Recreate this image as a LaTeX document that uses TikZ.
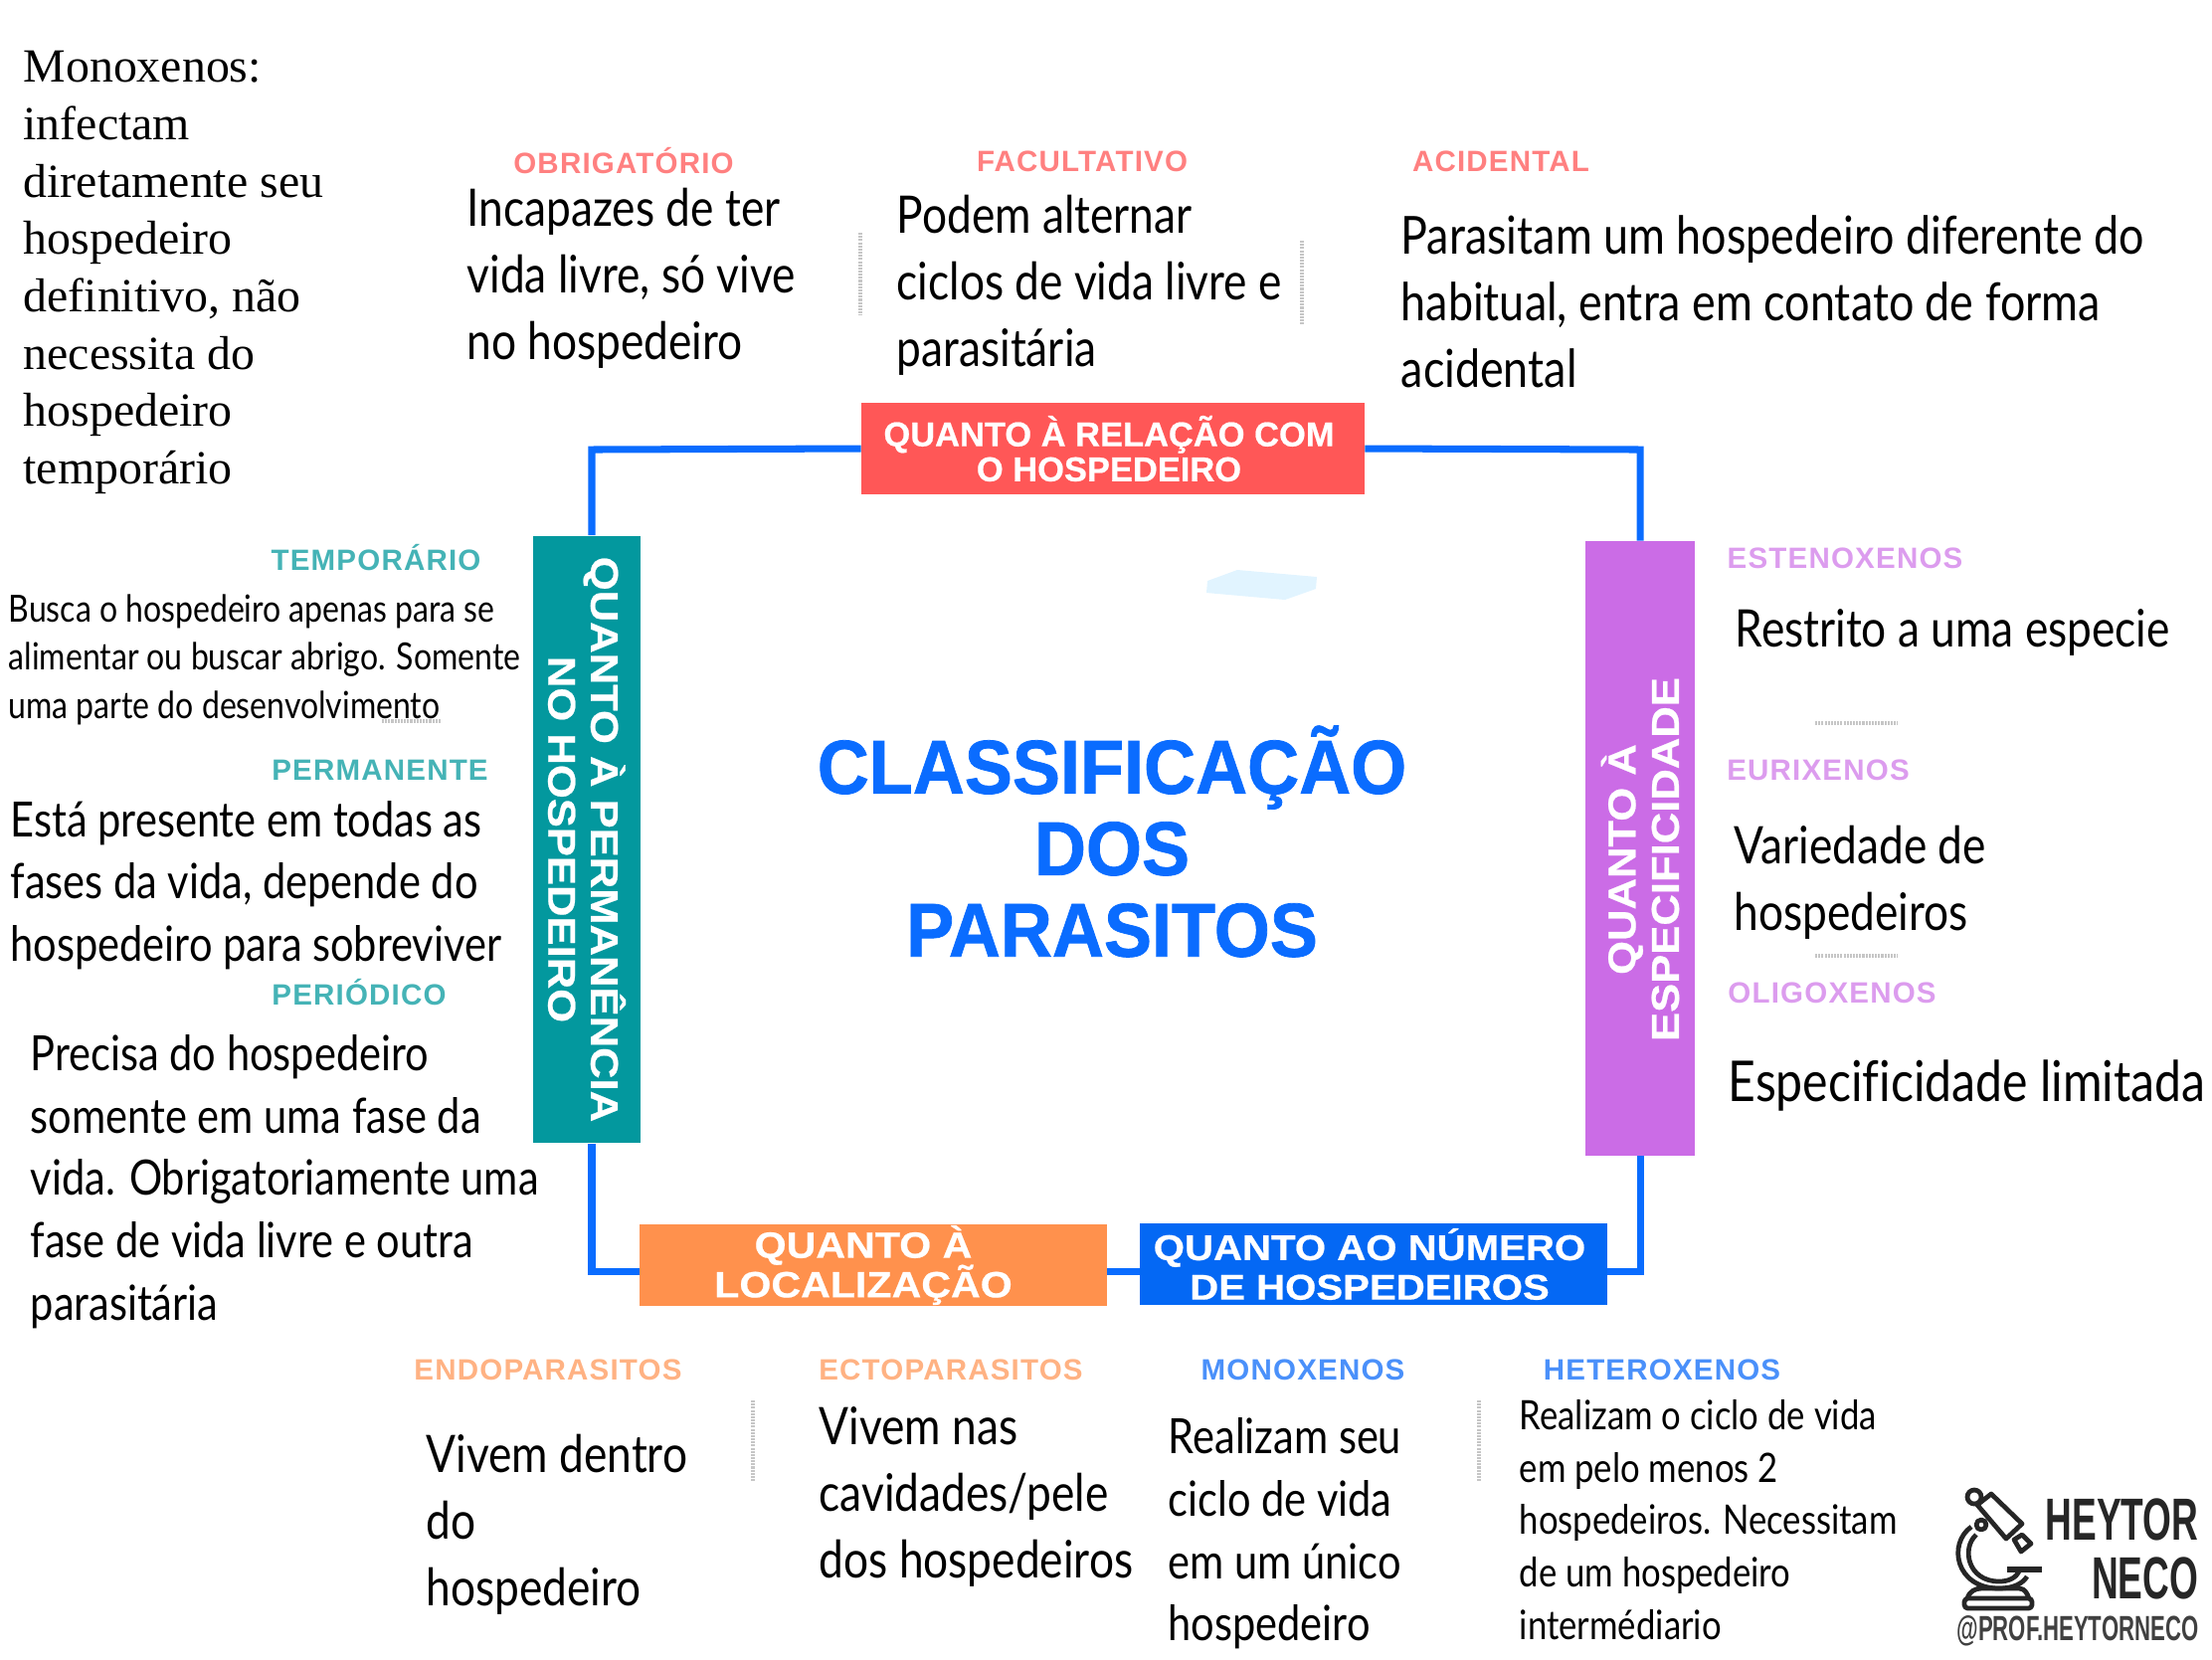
\documentclass[tikz,border=0pt]{standalone}
\usepackage{fontspec}
\usepackage{tikz}
\newfontfamily\condfont[FakeStretch=0.85,Ligatures=NoCommon]{Lato}
\newfontfamily\plainserif{Liberation Serif}
\newfontfamily\boxfont[FakeBold=0.6]{Liberation Sans}
\newfontfamily\wideboxfont[FakeStretch=1.12,FakeBold=0.6]{Liberation Sans}
\newfontfamily\titlefont[FakeStretch=0.94,FakeBold=1]{Liberation Sans}
\newfontfamily\headfont[LetterSpace=4]{Liberation Sans}
\newfontfamily\logofont[FakeStretch=0.62]{Liberation Sans}
\newfontfamily\tagfont[FakeStretch=0.63]{Liberation Sans}
\lineskiplimit=-20pt
\normallineskiplimit=-20pt
\definecolor{framecol}{HTML}{0A6CFF}
\definecolor{redbox}{HTML}{FF5757}
\definecolor{tealbox}{HTML}{03989E}
\definecolor{purplebox}{HTML}{CB6CE6}
\definecolor{orangebox}{HTML}{FF914D}
\definecolor{bluebox}{HTML}{0468F4}
\definecolor{redhead}{HTML}{FF8080}
\definecolor{tealhead}{HTML}{45B3B6}
\definecolor{purplehead}{HTML}{DC9CEE}
\definecolor{orangehead}{HTML}{FFB283}
\definecolor{bluehead}{HTML}{4A90FA}
\definecolor{smudge}{HTML}{E1F4FF}
\tikzstyle{catbox} = [rectangle, inner xsep=0pt, inner ysep=-0.08cm, text centered, align=center, text=white]
\tikzstyle{head} = [inner sep=0pt, font=\headfont\bfseries\fontsize{8.4}{9}\selectfont]
\tikzstyle{bodytext} = [anchor=west, inner sep=0pt, align=left, text=black]
\tikzstyle{bodyhuge} = [bodytext, font=\condfont\fontsize{16.1}{19}\selectfont]
\tikzstyle{bodylarge} = [bodytext, font=\condfont\fontsize{14.8}{19}\selectfont]
\tikzstyle{bodymid} = [bodytext, font=\condfont\fontsize{13.9}{17.8}\selectfont]
\tikzstyle{bodysmall} = [bodytext, font=\condfont\fontsize{11.6}{15}\selectfont]
\tikzstyle{bodytiny} = [bodytext, font=\condfont\fontsize{10.7}{13.8}\selectfont]
\tikzstyle{frameline} = [line width=2pt, draw=framecol]
\tikzstyle{sepline} = [line width=1.1pt, draw=gray!45, dash pattern=on 0.6pt off 0.3pt]
\tikzstyle{logopart} = [line width=1.35pt, draw=black!85, line join=round]
\begin{document}
\begin{tikzpicture}[x=0.01cm,y=-0.01cm]
	\useasboundingbox (0,0) rectangle (2224,1668);
	\fill [smudge] (1214,584) -- (1244,573) -- (1324,580) -- (1323,592) -- (1292,603) -- (1213,596) -- cycle;

	% category boxes
	\node (relacao) [catbox, fill=redbox, minimum width=5.05cm, minimum height=0.91cm, font=\boxfont\bfseries\fontsize{9.8}{10}\selectfont] at (1119,451) {QUANTO À RELAÇÃO COM\hspace*{0.08cm}\\O HOSPEDEIRO\hspace*{0.08cm}};
	\node (permanencia) [catbox, fill=tealbox, rotate=-90, minimum width=6.10cm, minimum height=1.07cm, font=\wideboxfont\bfseries\fontsize{11.07}{12.2}\selectfont] at (590,844) {QUANTO À PERMANÊNCIA\\NO HOSPEDEIRO};
	\node (especificidade) [catbox, fill=purplebox, rotate=90, minimum width=6.17cm, minimum height=1.10cm, font=\wideboxfont\bfseries\fontsize{11.07}{12.4}\selectfont] at (1649,853) {QUANTO À\hspace*{0.22cm}\\ESPECIFICIDADE\hspace*{0.22cm}};
	\node (localizacao) [catbox, fill=orangebox, minimum width=4.69cm, minimum height=0.82cm, font=\wideboxfont\bfseries\fontsize{10.45}{11.3}\selectfont] at (878,1272) {QUANTO À\hspace*{0.2cm}\\LOCALIZAÇÃO\hspace*{0.2cm}};
	\node (numero) [catbox, fill=bluebox, minimum width=4.69cm, minimum height=0.82cm, font=\wideboxfont\bfseries\fontsize{10.2}{11.3}\selectfont] at (1381,1271) {QUANTO AO NÚMERO\hspace*{0.08cm}\\DE HOSPEDEIROS\hspace*{0.08cm}};
	\node (titulo) [align=center, inner sep=0pt, text=framecol, font=\titlefont\bfseries\fontsize{21.8}{23.3}\selectfont] at (1118,846) {CLASSIFICAÇÃO\\DOS\\PARASITOS};

	% frame
	\coordinate (cantoA) at (595,452);
	\coordinate (cantoB) at (1649,452);
	\coordinate (cantoC) at (595,1278);
	\coordinate (cantoD) at (1649,1278);
	\draw [frameline] (relacao.west) -- (cantoA) -- (cantoA |- permanencia.west);
	\draw [frameline] (relacao.east) -- (cantoB) -- (cantoB |- especificidade.east);
	\draw [frameline] (cantoA |- permanencia.east) -- (cantoC) -- (cantoC -| localizacao.west);
	\draw [frameline] (cantoC -| localizacao.east) -- (cantoC -| numero.west);
	\draw [frameline] (cantoC -| numero.east) -- (cantoD) -- (cantoD |- especificidade.west);

	% top
	\node (monotexto) [bodytext, font=\plainserif\fontsize{13.6}{16.4}\selectfont] at (23,274) {Monoxenos:\\infectam\\diretamente seu\\hospedeiro\\definitivo, não\\necessita do\\hospedeiro\\temporário};
	\node (obrigatorio) [head, text=redhead] at (627,162) {OBRIGATÓRIO};
	\node (facultativo) [head, text=redhead] at (1088,162) {FACULTATIVO};
	\node (acidental) [head, text=redhead] at (1509,162) {ACIDENTAL};
	\node (obrigtexto) [bodylarge] at (469,280) {Incapazes de ter\\vida livre, só vive\\no hospedeiro};
	\node (facultexto) [bodylarge] at (901,287) {Podem alternar\\ciclos de vida livre e\\parasitária};
	\node (acidtexto) [bodytext, font=\condfont\fontsize{15}{19}\selectfont] at (1408,303) {Parasitam um hospedeiro diferente do\\habitual, entra em contato de forma\\acidental};

	% left
	\node (temporario) [head, text=tealhead] at (378,561) {TEMPORÁRIO};
	\node (permanente) [head, text=tealhead] at (382,774) {PERMANENTE};
	\node (periodico) [head, text=tealhead] at (361,998) {PERIÓDICO};
	\node (temptexto) [bodytiny] at (8,663) {Busca o hospedeiro apenas para se\\alimentar ou buscar abrigo. Somente\\uma parte do desenvolvimento};
	\node (permtexto) [bodymid] at (10,890) {Está presente em todas as\\fases da vida, depende do\\hospedeiro para sobreviver};
	\node (periotexto) [bodymid] at (30,1188) {Precisa do hospedeiro\\somente em uma fase da\\vida. Obrigatoriamente uma\\fase de vida livre e outra\\parasitária};

	% right
	\node (estenoxenos) [head, text=purplehead] at (1855,561) {ESTENOXENOS};
	\node (eurixenos) [head, text=purplehead] at (1828,774) {EURIXENOS};
	\node (oligoxenos) [head, text=purplehead] at (1842,998) {OLIGOXENOS};
	\node (estetexto) [bodylarge] at (1744,636) {Restrito a uma especie};
	\node (euritexto) [bodylarge] at (1743,887) {Variedade de\\hospedeiros};
	\node (oligotexto) [bodyhuge] at (1737,1091) {Especificidade limitada};

	% bottom
	\node (endoparasitos) [head, text=orangehead] at (551,1377) {ENDOPARASITOS};
	\node (ectoparasitos) [head, text=orangehead] at (956,1377) {ECTOPARASITOS};
	\node (monoxenos) [head, text=bluehead] at (1310,1377) {MONOXENOS};
	\node (heteroxenos) [head, text=bluehead] at (1671,1377) {HETEROXENOS};
	\node (endotexto) [bodylarge] at (428,1533) {Vivem dentro\\do\\hospedeiro};
	\node (ectotexto) [bodylarge] at (823,1505) {Vivem nas\\cavidades/pele\\dos hospedeiros};
	\node (monoxtexto) [bodymid] at (1174,1542) {Realizam seu\\ciclo de vida\\em um único\\hospedeiro};
	\node (heterotexto) [bodysmall] at (1527,1528) {Realizam o ciclo de vida\\em pelo menos 2\\hospedeiros. Necessitam\\de um hospedeiro\\intermédiario};

	% dotted separators
	\draw [sepline] (865,234) -- (865,317);
	\draw [sepline] (1309,242) -- (1309,327);
	\draw [sepline] (757,1408) -- (757,1489);
	\draw [sepline] (1487,1408) -- (1487,1489);
	\draw [sepline] (1825,727) -- (1908,727);
	\draw [sepline] (1825,961) -- (1908,961);
	\draw [sepline] (384,725) -- (444,725);

	% logo
	\node (heytor) [anchor=east, inner sep=0pt, text=black!85, font=\logofont\bfseries\fontsize{17}{18}\selectfont] at (2211,1528) {HEYTOR};
	\node (neco) [anchor=east, inner sep=0pt, text=black!85, font=\logofont\bfseries\fontsize{17}{18}\selectfont] at (2211,1587) {NECO};
	\node (arroba) [anchor=east, inner sep=0pt, text=black!75, font=\tagfont\bfseries\fontsize{10}{11}\selectfont] at (2211,1640) {@PROF.HEYTORNECO};
	\draw [logopart, rounded corners=1pt] (1975,1607) rectangle (2043,1617);
	\draw [logopart] (1978,1607) .. controls (1980,1600) and (1986,1597) .. (1992,1597) -- (2030,1597) .. controls (2036,1597) and (2038,1602) .. (2040,1607);
	\draw [logopart] (1982,1535) .. controls (1958,1552) and (1966,1597) .. (2010,1597) .. controls (2024,1597) and (2034,1592) .. (2038,1585);
	\draw [logopart] (1987,1543) .. controls (1972,1556) and (1978,1590) .. (2010,1590) .. controls (2020,1590) and (2027,1586) .. (2030,1580);
	\draw [logopart, line width=1.6pt] (2018,1578) -- (2053,1578);
	\draw [logopart] (1988,1513) -- (2002,1502) -- (2033,1532) -- (2017,1547) -- cycle;
	\draw [logopart] (2025,1548) -- (2033,1543) -- (2042,1552) -- (2032,1560) -- cycle;
	\draw [logopart, fill=white] (1985,1505) circle (7);
	\draw [logopart, fill=white] (1992,1533) circle (5);
\end{tikzpicture}
\end{document}
